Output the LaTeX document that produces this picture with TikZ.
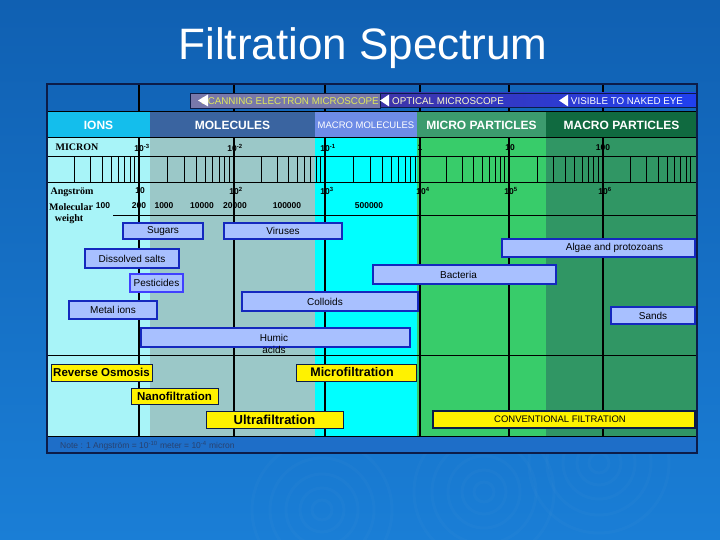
\documentclass[tikz,border=0pt]{standalone}
\usepackage{fontspec}
\setmainfont{Liberation Sans}
\newfontfamily\tnr{Liberation Serif}
\usetikzlibrary{positioning}

% Colori del diagramma
\definecolor{paginaalto}{RGB}{16,96,178}
\definecolor{paginabasso}{RGB}{26,126,214}
\definecolor{chiaro}{RGB}{168,244,248}
\definecolor{grigioverde}{RGB}{155,200,200}
\definecolor{ciano}{RGB}{0,255,255}
\definecolor{verde}{RGB}{56,204,106}
\definecolor{verdescuro}{RGB}{48,150,100}
\definecolor{ionicol}{RGB}{20,190,236}
\definecolor{molcol}{RGB}{58,100,160}
\definecolor{macromolcol}{RGB}{110,140,230}
\definecolor{micropcol}{RGB}{60,155,110}
\definecolor{macropcol}{RGB}{16,106,64}
\definecolor{celestino}{RGB}{168,192,255}
\definecolor{bordobarra}{RGB}{20,40,190}
\definecolor{blunotte}{RGB}{12,28,72}
\definecolor{notacol}{RGB}{30,110,200}
\definecolor{notatesto}{RGB}{40,66,112}
\definecolor{semcol}{RGB}{120,120,170}
\definecolor{semtesto}{RGB}{225,232,90}
\definecolor{otticosx}{RGB}{62,52,168}
\definecolor{otticodx}{RGB}{32,64,240}

\begin{document}
\begin{tikzpicture}[x=1pt, y=-1pt]
% Stili
\tikzset{
  barra/.style={draw=bordobarra, fill=celestino, line width=1.1pt, inner sep=0pt,
    font=\fontsize{10}{12}\selectfont},
  filtro/.style={draw=blunotte, fill=yellow, line width=1pt, inner sep=0pt,
    font=\bfseries\fontsize{11.5}{12}\selectfont},
  cella/.style={inner sep=0pt, minimum height=26pt, text=white,
    font=\bfseries\fontsize{12}{12}\selectfont},
  numero/.style={font=\bfseries\fontsize{8.5}{8.5}\selectfont, inner sep=0pt},
  etichetta/.style={font=\tnr\bfseries\fontsize{10}{10}\selectfont, inner sep=0pt},
  micro/.style={font=\fontsize{9.8}{10}\selectfont, inner sep=0pt},
  decade/.style={line width=1.2pt},
  tacca/.style={line width=1pt},
  riga/.style={line width=1pt},
  cornice/.style={draw=blunotte, line width=2pt}
}

% --- SFONDO ---
\useasboundingbox (0,0) rectangle (720,540);
\shade[top color=paginaalto, bottom color=paginabasso] (0,0) rectangle (720,540);
\foreach \cx/\cy in {599/463, 484/492, 322/510}
  \foreach \r in {10,22,36,52,70}
    \draw[white, opacity=0.02, line width=3pt] (\cx,\cy) circle[radius=\r pt];

\node[text=white, font=\fontsize{44}{44}\selectfont] (titolo) at (363,48) {Filtration Spectrum};

% --- COLONNE DI SFONDO ---
\fill[chiaro]      (47,138)  rectangle (150,436);
\fill[grigioverde] (150,138) rectangle (315,436);
\fill[ciano]       (315,138) rectangle (417,436);
\fill[verde]       (417,138) rectangle (546,436);
\fill[verdescuro]  (546,138) rectangle (697,436);
\fill[notacol]     (47,436)  rectangle (697,453);

% Linee delle decadi
\foreach \x in {139,234,325,420,509,603}
  \draw[decade] (\x,84) -- (\x,436);

% --- INTESTAZIONI ---
\node[cella, fill=ionicol, minimum width=103pt] (ioni) at (98.5,125) {IONS};
\node[cella, fill=molcol, minimum width=165pt] (molecole) at (232.5,125) {MOLECULES};
\node[cella, fill=macromolcol, minimum width=102pt,
  font=\fontsize{9.5}{10}\selectfont] (macromol) at (366,125) {MACRO MOLECULES};
\node[cella, fill=micropcol, minimum width=129pt] (microp) at (481.5,125) {MICRO PARTICLES};
\node[cella, fill=macropcol, minimum width=151pt] (macrop) at (621.5,125) {MACRO PARTICLES};

% Righe orizzontali
\foreach \y in {112,138,157,183,355,436}
  \draw[riga] (47,\y) -- (697,\y);
\draw[riga] (113,216) -- (697,216);

% Tacche logaritmiche
\foreach \s/\e in {47/139,139/234,234/325,325/420,420/509,509/603,603/695}
  \foreach \k in {2,...,9}
    \draw[tacca] ({\s+(\e-\s)*log10(\k)},157) -- ++(0,26);

% --- MICROSCOPI ---
\node[draw=blunotte, fill=semcol, inner sep=0pt, minimum width=190pt, minimum height=15pt]
  (sem) at (285,100.5) {};
\node[micro, text=semtesto] (semtesto) at (290,101.5) {SCANNING ELECTRON MICROSCOPE};
\node[draw=blunotte, left color=otticosx, right color=otticodx,
  inner sep=0pt, minimum width=317pt, minimum height=14pt] (ottico) at (538.5,100) {};
\node[micro, text=white!80!yellow] (otticotesto) at (448,101) {OPTICAL MICROSCOPE};
\node[micro, text=white] (occhio) at (627,101) {VISIBLE TO NAKED EYE};
\fill[white] (208,94.5) -- (198,100.5) -- (208,106.5) -- cycle;
\fill[white] (389,94.5) -- (380,100.5) -- (389,106.5) -- cycle;
\fill[white] (568,94.5) -- (559,100.5) -- (568,106.5) -- cycle;

% --- SCALE ---
\node[etichetta] (micron) at (77,147) {MICRON};
\node[etichetta] (angstrom) at (72,192) {Angström};
\node[etichetta] (molecular) at (71,207) {Molecular};
\node[etichetta] (weight) at (69,219) {weight};

\foreach \x/\t in {142/10\textsuperscript{-3}, 235/10\textsuperscript{-2},
                   328/10\textsuperscript{-1}, 420/1, 510/10, 603/100}
  \node[numero] at (\x,148) {\t};
\foreach \x/\t in {140/10, 236/10\textsuperscript{2}, 327/10\textsuperscript{3},
                   423/10\textsuperscript{4}, 511/10\textsuperscript{5}, 605/10\textsuperscript{6}}
  \node[numero] at (\x,191) {\t};
\foreach \x/\t in {103/100, 139/200, 164/1000, 202/10000, 235/20000, 287/100000, 369/500000}
  \node[numero] at (\x,206) {\t};

% --- DIMENSIONI DEI CONTAMINANTI ---
\node[barra, minimum width=80pt, minimum height=16pt] (zuccheri) at (163,231) {Sugars};
\node[barra, minimum width=118pt, minimum height=16pt] (virus) at (283,231) {Viruses};
\node[barra, minimum width=193pt, minimum height=18pt] (alghe) at (598.5,248)
  {\hspace*{32pt}Algae and protozoans};
\node[barra, minimum width=94pt, minimum height=19pt] (sali) at (132,258.5) {Dissolved salts};
\node[barra, minimum width=183pt, minimum height=19pt] (batteri) at (464.5,274.5)
  {Bacteria\hspace*{12pt}};
\node[barra, draw=blue!75!white, minimum width=53pt, minimum height=18pt] (pesticidi)
  at (156.5,283) {Pesticides};
\node[barra, minimum width=176pt, minimum height=19pt] (colloidi) at (330,301.5)
  {\hspace*{-10pt}Colloids};
\node[barra, minimum width=88pt, minimum height=18pt] (metalli) at (113,310) {Metal ions};
\node[barra, minimum width=84pt, minimum height=17pt] (sabbie) at (653,315.5) {Sands};
\node[barra, minimum width=269pt, minimum height=19pt] (humici) at (275.5,337.5) {};
\node[font=\fontsize{10}{12}\selectfont, align=center, inner sep=0pt] (humicitesto)
  at (274,344) {Humic\\acids};

% --- PROCESSI DI FILTRAZIONE ---
\node[filtro, minimum width=101pt, minimum height=17pt] (osmosi) at (101.5,372.5) {Reverse Osmosis};
\node[filtro, minimum width=120pt, minimum height=17pt, font=\bfseries\fontsize{12.5}{13}\selectfont]
  (microf) at (356,372.5) {Microfiltration\hspace*{8pt}};
\node[filtro, minimum width=87pt, minimum height=16pt] (nanof) at (174.5,396) {Nanofiltration};
\node[filtro, minimum width=137pt, minimum height=17pt, font=\bfseries\fontsize{13}{13}\selectfont]
  (ultraf) at (274.5,419.5) {Ultrafiltration};
\node[filtro, minimum width=262pt, minimum height=17pt, line width=1.4pt,
  font=\fontsize{9.5}{10}\selectfont] (convenzionale) at (564,419.5)
  {CONVENTIONAL FILTRATION\hspace*{8pt}};

% Nota
\node[anchor=west, text=notatesto, font=\fontsize{8.5}{9}\selectfont, inner sep=0pt] (nota)
  at (60,445.5) {Note : 1 Angström = 10\textsuperscript{-10} meter = 10\textsuperscript{-4} micron};

% Cornice esterna
\draw[cornice] (47,84) rectangle (697,453);

\end{tikzpicture}
\end{document}
